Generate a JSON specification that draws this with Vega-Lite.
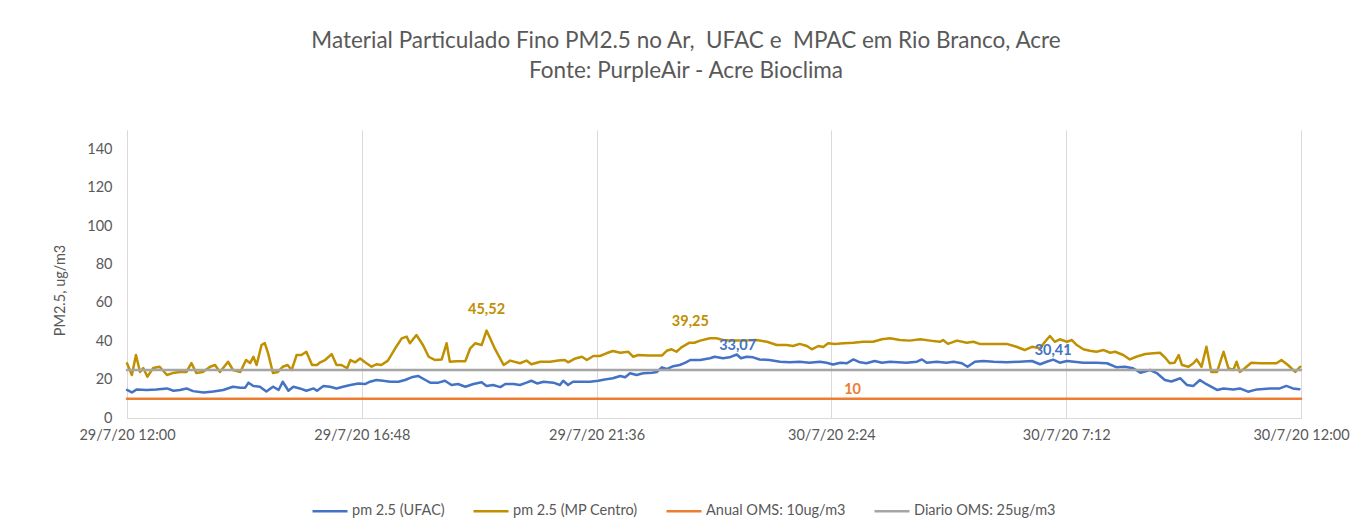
{
  "$schema": "https://vega.github.io/schema/vega-lite/v6.json",
  "width": 1174,
  "height": 288,
  "autosize": {"type": "none"},
  "padding": {"left": 127, "top": 130, "right": 66, "bottom": 113},
  "config": {
    "view": {"stroke": null},
    "font": "Lato",
    "axis": {"labelFont": "Lato", "titleFont": "Lato"},
    "legend": {"labelFont": "Lato"}
  },
  "title": {
    "text": ["Material Particulado Fino PM2.5 no Ar, \u00a0UFAC e \u00a0MPAC em Rio Branco, Acre", "Fonte: PurpleAir - Acre Bioclima"],
    "font": "Lato",
    "fontSize": 22.5,
    "fontWeight": "normal",
    "color": "#595959",
    "lineHeight": 30,
    "anchor": "middle",
    "baseline": "bottom",
    "dx": -28,
    "offset": 25
  },
  "datasets": {
    "series": [
      {"series": "pm 2.5 (UFAC)", "time": "2020-07-29T12:00", "pm": 14.6},
      {"series": "pm 2.5 (UFAC)", "time": "2020-07-29T12:06", "pm": 13.3},
      {"series": "pm 2.5 (UFAC)", "time": "2020-07-29T12:12", "pm": 14.9},
      {"series": "pm 2.5 (UFAC)", "time": "2020-07-29T12:24", "pm": 14.6},
      {"series": "pm 2.5 (UFAC)", "time": "2020-07-29T12:36", "pm": 14.9},
      {"series": "pm 2.5 (UFAC)", "time": "2020-07-29T12:49", "pm": 15.4},
      {"series": "pm 2.5 (UFAC)", "time": "2020-07-29T12:57", "pm": 14.2},
      {"series": "pm 2.5 (UFAC)", "time": "2020-07-29T13:05", "pm": 14.6},
      {"series": "pm 2.5 (UFAC)", "time": "2020-07-29T13:13", "pm": 15.4},
      {"series": "pm 2.5 (UFAC)", "time": "2020-07-29T13:21", "pm": 14.0},
      {"series": "pm 2.5 (UFAC)", "time": "2020-07-29T13:34", "pm": 13.3},
      {"series": "pm 2.5 (UFAC)", "time": "2020-07-29T13:46", "pm": 13.8},
      {"series": "pm 2.5 (UFAC)", "time": "2020-07-29T13:58", "pm": 14.6},
      {"series": "pm 2.5 (UFAC)", "time": "2020-07-29T14:10", "pm": 16.3},
      {"series": "pm 2.5 (UFAC)", "time": "2020-07-29T14:19", "pm": 15.8},
      {"series": "pm 2.5 (UFAC)", "time": "2020-07-29T14:25", "pm": 15.8},
      {"series": "pm 2.5 (UFAC)", "time": "2020-07-29T14:29", "pm": 18.4},
      {"series": "pm 2.5 (UFAC)", "time": "2020-07-29T14:35", "pm": 16.7},
      {"series": "pm 2.5 (UFAC)", "time": "2020-07-29T14:43", "pm": 16.3},
      {"series": "pm 2.5 (UFAC)", "time": "2020-07-29T14:51", "pm": 13.8},
      {"series": "pm 2.5 (UFAC)", "time": "2020-07-29T14:59", "pm": 16.3},
      {"series": "pm 2.5 (UFAC)", "time": "2020-07-29T15:06", "pm": 14.6},
      {"series": "pm 2.5 (UFAC)", "time": "2020-07-29T15:11", "pm": 18.9},
      {"series": "pm 2.5 (UFAC)", "time": "2020-07-29T15:18", "pm": 14.2},
      {"series": "pm 2.5 (UFAC)", "time": "2020-07-29T15:24", "pm": 16.3},
      {"series": "pm 2.5 (UFAC)", "time": "2020-07-29T15:32", "pm": 15.4},
      {"series": "pm 2.5 (UFAC)", "time": "2020-07-29T15:40", "pm": 14.2},
      {"series": "pm 2.5 (UFAC)", "time": "2020-07-29T15:49", "pm": 15.4},
      {"series": "pm 2.5 (UFAC)", "time": "2020-07-29T15:53", "pm": 14.2},
      {"series": "pm 2.5 (UFAC)", "time": "2020-07-29T16:01", "pm": 16.7},
      {"series": "pm 2.5 (UFAC)", "time": "2020-07-29T16:09", "pm": 16.3},
      {"series": "pm 2.5 (UFAC)", "time": "2020-07-29T16:17", "pm": 15.4},
      {"series": "pm 2.5 (UFAC)", "time": "2020-07-29T16:25", "pm": 16.3},
      {"series": "pm 2.5 (UFAC)", "time": "2020-07-29T16:34", "pm": 17.2},
      {"series": "pm 2.5 (UFAC)", "time": "2020-07-29T16:44", "pm": 18.0},
      {"series": "pm 2.5 (UFAC)", "time": "2020-07-29T16:52", "pm": 17.7},
      {"series": "pm 2.5 (UFAC)", "time": "2020-07-29T16:58", "pm": 18.9},
      {"series": "pm 2.5 (UFAC)", "time": "2020-07-29T17:06", "pm": 19.8},
      {"series": "pm 2.5 (UFAC)", "time": "2020-07-29T17:14", "pm": 19.4},
      {"series": "pm 2.5 (UFAC)", "time": "2020-07-29T17:23", "pm": 18.9},
      {"series": "pm 2.5 (UFAC)", "time": "2020-07-29T17:33", "pm": 18.9},
      {"series": "pm 2.5 (UFAC)", "time": "2020-07-29T17:41", "pm": 19.8},
      {"series": "pm 2.5 (UFAC)", "time": "2020-07-29T17:49", "pm": 21.2},
      {"series": "pm 2.5 (UFAC)", "time": "2020-07-29T17:57", "pm": 21.9},
      {"series": "pm 2.5 (UFAC)", "time": "2020-07-29T18:06", "pm": 19.8},
      {"series": "pm 2.5 (UFAC)", "time": "2020-07-29T18:12", "pm": 18.4},
      {"series": "pm 2.5 (UFAC)", "time": "2020-07-29T18:22", "pm": 18.4},
      {"series": "pm 2.5 (UFAC)", "time": "2020-07-29T18:30", "pm": 19.4},
      {"series": "pm 2.5 (UFAC)", "time": "2020-07-29T18:38", "pm": 17.2},
      {"series": "pm 2.5 (UFAC)", "time": "2020-07-29T18:46", "pm": 17.7},
      {"series": "pm 2.5 (UFAC)", "time": "2020-07-29T18:55", "pm": 16.3},
      {"series": "pm 2.5 (UFAC)", "time": "2020-07-29T19:05", "pm": 17.7},
      {"series": "pm 2.5 (UFAC)", "time": "2020-07-29T19:15", "pm": 18.6},
      {"series": "pm 2.5 (UFAC)", "time": "2020-07-29T19:21", "pm": 16.7},
      {"series": "pm 2.5 (UFAC)", "time": "2020-07-29T19:29", "pm": 17.2},
      {"series": "pm 2.5 (UFAC)", "time": "2020-07-29T19:38", "pm": 16.1},
      {"series": "pm 2.5 (UFAC)", "time": "2020-07-29T19:44", "pm": 17.7},
      {"series": "pm 2.5 (UFAC)", "time": "2020-07-29T19:54", "pm": 17.7},
      {"series": "pm 2.5 (UFAC)", "time": "2020-07-29T20:02", "pm": 17.2},
      {"series": "pm 2.5 (UFAC)", "time": "2020-07-29T20:10", "pm": 18.4},
      {"series": "pm 2.5 (UFAC)", "time": "2020-07-29T20:16", "pm": 19.4},
      {"series": "pm 2.5 (UFAC)", "time": "2020-07-29T20:23", "pm": 18.0},
      {"series": "pm 2.5 (UFAC)", "time": "2020-07-29T20:31", "pm": 18.9},
      {"series": "pm 2.5 (UFAC)", "time": "2020-07-29T20:43", "pm": 18.4},
      {"series": "pm 2.5 (UFAC)", "time": "2020-07-29T20:51", "pm": 17.2},
      {"series": "pm 2.5 (UFAC)", "time": "2020-07-29T20:55", "pm": 19.4},
      {"series": "pm 2.5 (UFAC)", "time": "2020-07-29T21:01", "pm": 17.2},
      {"series": "pm 2.5 (UFAC)", "time": "2020-07-29T21:07", "pm": 18.9},
      {"series": "pm 2.5 (UFAC)", "time": "2020-07-29T21:18", "pm": 18.9},
      {"series": "pm 2.5 (UFAC)", "time": "2020-07-29T21:28", "pm": 18.9},
      {"series": "pm 2.5 (UFAC)", "time": "2020-07-29T21:38", "pm": 19.4},
      {"series": "pm 2.5 (UFAC)", "time": "2020-07-29T21:46", "pm": 20.1},
      {"series": "pm 2.5 (UFAC)", "time": "2020-07-29T21:56", "pm": 20.7},
      {"series": "pm 2.5 (UFAC)", "time": "2020-07-29T22:05", "pm": 21.9},
      {"series": "pm 2.5 (UFAC)", "time": "2020-07-29T22:11", "pm": 21.2},
      {"series": "pm 2.5 (UFAC)", "time": "2020-07-29T22:17", "pm": 23.3},
      {"series": "pm 2.5 (UFAC)", "time": "2020-07-29T22:25", "pm": 22.4},
      {"series": "pm 2.5 (UFAC)", "time": "2020-07-29T22:33", "pm": 23.3},
      {"series": "pm 2.5 (UFAC)", "time": "2020-07-29T22:44", "pm": 23.6},
      {"series": "pm 2.5 (UFAC)", "time": "2020-07-29T22:50", "pm": 24.0},
      {"series": "pm 2.5 (UFAC)", "time": "2020-07-29T22:56", "pm": 26.4},
      {"series": "pm 2.5 (UFAC)", "time": "2020-07-29T23:02", "pm": 25.5},
      {"series": "pm 2.5 (UFAC)", "time": "2020-07-29T23:10", "pm": 27.0},
      {"series": "pm 2.5 (UFAC)", "time": "2020-07-29T23:18", "pm": 27.6},
      {"series": "pm 2.5 (UFAC)", "time": "2020-07-29T23:25", "pm": 28.8},
      {"series": "pm 2.5 (UFAC)", "time": "2020-07-29T23:31", "pm": 30.2},
      {"series": "pm 2.5 (UFAC)", "time": "2020-07-29T23:43", "pm": 30.2},
      {"series": "pm 2.5 (UFAC)", "time": "2020-07-29T23:55", "pm": 31.1},
      {"series": "pm 2.5 (UFAC)", "time": "2020-07-30T00:01", "pm": 31.9},
      {"series": "pm 2.5 (UFAC)", "time": "2020-07-30T00:11", "pm": 31.1},
      {"series": "pm 2.5 (UFAC)", "time": "2020-07-30T00:19", "pm": 31.6},
      {"series": "pm 2.5 (UFAC)", "time": "2020-07-30T00:28", "pm": 33.07},
      {"series": "pm 2.5 (UFAC)", "time": "2020-07-30T00:33", "pm": 31.1},
      {"series": "pm 2.5 (UFAC)", "time": "2020-07-30T00:40", "pm": 31.9},
      {"series": "pm 2.5 (UFAC)", "time": "2020-07-30T00:48", "pm": 31.6},
      {"series": "pm 2.5 (UFAC)", "time": "2020-07-30T00:56", "pm": 30.5},
      {"series": "pm 2.5 (UFAC)", "time": "2020-07-30T01:08", "pm": 30.2},
      {"series": "pm 2.5 (UFAC)", "time": "2020-07-30T01:21", "pm": 29.3},
      {"series": "pm 2.5 (UFAC)", "time": "2020-07-30T01:33", "pm": 29.0},
      {"series": "pm 2.5 (UFAC)", "time": "2020-07-30T01:45", "pm": 29.3},
      {"series": "pm 2.5 (UFAC)", "time": "2020-07-30T01:57", "pm": 28.8},
      {"series": "pm 2.5 (UFAC)", "time": "2020-07-30T02:10", "pm": 29.3},
      {"series": "pm 2.5 (UFAC)", "time": "2020-07-30T02:18", "pm": 28.8},
      {"series": "pm 2.5 (UFAC)", "time": "2020-07-30T02:26", "pm": 27.9},
      {"series": "pm 2.5 (UFAC)", "time": "2020-07-30T02:35", "pm": 28.8},
      {"series": "pm 2.5 (UFAC)", "time": "2020-07-30T02:43", "pm": 28.5},
      {"series": "pm 2.5 (UFAC)", "time": "2020-07-30T02:51", "pm": 30.5},
      {"series": "pm 2.5 (UFAC)", "time": "2020-07-30T02:59", "pm": 29.0},
      {"series": "pm 2.5 (UFAC)", "time": "2020-07-30T03:07", "pm": 28.5},
      {"series": "pm 2.5 (UFAC)", "time": "2020-07-30T03:17", "pm": 29.7},
      {"series": "pm 2.5 (UFAC)", "time": "2020-07-30T03:26", "pm": 28.8},
      {"series": "pm 2.5 (UFAC)", "time": "2020-07-30T03:36", "pm": 29.3},
      {"series": "pm 2.5 (UFAC)", "time": "2020-07-30T03:56", "pm": 28.8},
      {"series": "pm 2.5 (UFAC)", "time": "2020-07-30T04:09", "pm": 29.3},
      {"series": "pm 2.5 (UFAC)", "time": "2020-07-30T04:15", "pm": 30.5},
      {"series": "pm 2.5 (UFAC)", "time": "2020-07-30T04:21", "pm": 28.8},
      {"series": "pm 2.5 (UFAC)", "time": "2020-07-30T04:33", "pm": 29.3},
      {"series": "pm 2.5 (UFAC)", "time": "2020-07-30T04:45", "pm": 28.8},
      {"series": "pm 2.5 (UFAC)", "time": "2020-07-30T04:54", "pm": 29.3},
      {"series": "pm 2.5 (UFAC)", "time": "2020-07-30T05:04", "pm": 28.5},
      {"series": "pm 2.5 (UFAC)", "time": "2020-07-30T05:11", "pm": 26.7},
      {"series": "pm 2.5 (UFAC)", "time": "2020-07-30T05:20", "pm": 29.3},
      {"series": "pm 2.5 (UFAC)", "time": "2020-07-30T05:30", "pm": 29.7},
      {"series": "pm 2.5 (UFAC)", "time": "2020-07-30T05:43", "pm": 29.3},
      {"series": "pm 2.5 (UFAC)", "time": "2020-07-30T05:59", "pm": 29.0},
      {"series": "pm 2.5 (UFAC)", "time": "2020-07-30T06:15", "pm": 29.3},
      {"series": "pm 2.5 (UFAC)", "time": "2020-07-30T06:30", "pm": 29.7},
      {"series": "pm 2.5 (UFAC)", "time": "2020-07-30T06:40", "pm": 28.0},
      {"series": "pm 2.5 (UFAC)", "time": "2020-07-30T06:48", "pm": 29.3},
      {"series": "pm 2.5 (UFAC)", "time": "2020-07-30T06:56", "pm": 30.41},
      {"series": "pm 2.5 (UFAC)", "time": "2020-07-30T07:04", "pm": 28.8},
      {"series": "pm 2.5 (UFAC)", "time": "2020-07-30T07:13", "pm": 29.7},
      {"series": "pm 2.5 (UFAC)", "time": "2020-07-30T07:33", "pm": 28.8},
      {"series": "pm 2.5 (UFAC)", "time": "2020-07-30T07:49", "pm": 28.8},
      {"series": "pm 2.5 (UFAC)", "time": "2020-07-30T08:02", "pm": 28.5},
      {"series": "pm 2.5 (UFAC)", "time": "2020-07-30T08:14", "pm": 26.4},
      {"series": "pm 2.5 (UFAC)", "time": "2020-07-30T08:24", "pm": 26.7},
      {"series": "pm 2.5 (UFAC)", "time": "2020-07-30T08:34", "pm": 25.9},
      {"series": "pm 2.5 (UFAC)", "time": "2020-07-30T08:43", "pm": 23.6},
      {"series": "pm 2.5 (UFAC)", "time": "2020-07-30T08:55", "pm": 25.0},
      {"series": "pm 2.5 (UFAC)", "time": "2020-07-30T09:03", "pm": 23.4},
      {"series": "pm 2.5 (UFAC)", "time": "2020-07-30T09:13", "pm": 19.8},
      {"series": "pm 2.5 (UFAC)", "time": "2020-07-30T09:21", "pm": 19.0},
      {"series": "pm 2.5 (UFAC)", "time": "2020-07-30T09:32", "pm": 20.7},
      {"series": "pm 2.5 (UFAC)", "time": "2020-07-30T09:40", "pm": 17.2},
      {"series": "pm 2.5 (UFAC)", "time": "2020-07-30T09:48", "pm": 16.7},
      {"series": "pm 2.5 (UFAC)", "time": "2020-07-30T09:56", "pm": 19.8},
      {"series": "pm 2.5 (UFAC)", "time": "2020-07-30T10:04", "pm": 17.6},
      {"series": "pm 2.5 (UFAC)", "time": "2020-07-30T10:17", "pm": 14.6},
      {"series": "pm 2.5 (UFAC)", "time": "2020-07-30T10:25", "pm": 15.4},
      {"series": "pm 2.5 (UFAC)", "time": "2020-07-30T10:37", "pm": 14.9},
      {"series": "pm 2.5 (UFAC)", "time": "2020-07-30T10:45", "pm": 15.4},
      {"series": "pm 2.5 (UFAC)", "time": "2020-07-30T10:55", "pm": 13.7},
      {"series": "pm 2.5 (UFAC)", "time": "2020-07-30T11:06", "pm": 14.9},
      {"series": "pm 2.5 (UFAC)", "time": "2020-07-30T11:22", "pm": 15.4},
      {"series": "pm 2.5 (UFAC)", "time": "2020-07-30T11:34", "pm": 15.4},
      {"series": "pm 2.5 (UFAC)", "time": "2020-07-30T11:42", "pm": 16.7},
      {"series": "pm 2.5 (UFAC)", "time": "2020-07-30T11:50", "pm": 15.4},
      {"series": "pm 2.5 (UFAC)", "time": "2020-07-30T11:58", "pm": 15.0},

      {"series": "pm 2.5 (MP Centro)", "time": "2020-07-29T12:00", "pm": 28.5},
      {"series": "pm 2.5 (MP Centro)", "time": "2020-07-29T12:06", "pm": 22.4},
      {"series": "pm 2.5 (MP Centro)", "time": "2020-07-29T12:11", "pm": 32.8},
      {"series": "pm 2.5 (MP Centro)", "time": "2020-07-29T12:16", "pm": 24.0},
      {"series": "pm 2.5 (MP Centro)", "time": "2020-07-29T12:20", "pm": 26.0},
      {"series": "pm 2.5 (MP Centro)", "time": "2020-07-29T12:25", "pm": 21.5},
      {"series": "pm 2.5 (MP Centro)", "time": "2020-07-29T12:32", "pm": 26.0},
      {"series": "pm 2.5 (MP Centro)", "time": "2020-07-29T12:40", "pm": 26.7},
      {"series": "pm 2.5 (MP Centro)", "time": "2020-07-29T12:49", "pm": 22.4},
      {"series": "pm 2.5 (MP Centro)", "time": "2020-07-29T12:56", "pm": 23.4},
      {"series": "pm 2.5 (MP Centro)", "time": "2020-07-29T13:05", "pm": 24.0},
      {"series": "pm 2.5 (MP Centro)", "time": "2020-07-29T13:13", "pm": 24.0},
      {"series": "pm 2.5 (MP Centro)", "time": "2020-07-29T13:19", "pm": 28.6},
      {"series": "pm 2.5 (MP Centro)", "time": "2020-07-29T13:25", "pm": 23.4},
      {"series": "pm 2.5 (MP Centro)", "time": "2020-07-29T13:33", "pm": 24.0},
      {"series": "pm 2.5 (MP Centro)", "time": "2020-07-29T13:42", "pm": 26.7},
      {"series": "pm 2.5 (MP Centro)", "time": "2020-07-29T13:48", "pm": 27.6},
      {"series": "pm 2.5 (MP Centro)", "time": "2020-07-29T13:54", "pm": 24.0},
      {"series": "pm 2.5 (MP Centro)", "time": "2020-07-29T14:04", "pm": 29.3},
      {"series": "pm 2.5 (MP Centro)", "time": "2020-07-29T14:10", "pm": 25.0},
      {"series": "pm 2.5 (MP Centro)", "time": "2020-07-29T14:19", "pm": 24.0},
      {"series": "pm 2.5 (MP Centro)", "time": "2020-07-29T14:26", "pm": 30.2},
      {"series": "pm 2.5 (MP Centro)", "time": "2020-07-29T14:31", "pm": 28.6},
      {"series": "pm 2.5 (MP Centro)", "time": "2020-07-29T14:35", "pm": 31.9},
      {"series": "pm 2.5 (MP Centro)", "time": "2020-07-29T14:39", "pm": 27.6},
      {"series": "pm 2.5 (MP Centro)", "time": "2020-07-29T14:45", "pm": 38.0},
      {"series": "pm 2.5 (MP Centro)", "time": "2020-07-29T14:49", "pm": 39.0},
      {"series": "pm 2.5 (MP Centro)", "time": "2020-07-29T14:53", "pm": 33.8},
      {"series": "pm 2.5 (MP Centro)", "time": "2020-07-29T14:59", "pm": 23.4},
      {"series": "pm 2.5 (MP Centro)", "time": "2020-07-29T15:05", "pm": 24.0},
      {"series": "pm 2.5 (MP Centro)", "time": "2020-07-29T15:11", "pm": 26.7},
      {"series": "pm 2.5 (MP Centro)", "time": "2020-07-29T15:17", "pm": 27.6},
      {"series": "pm 2.5 (MP Centro)", "time": "2020-07-29T15:22", "pm": 25.0},
      {"series": "pm 2.5 (MP Centro)", "time": "2020-07-29T15:28", "pm": 32.8},
      {"series": "pm 2.5 (MP Centro)", "time": "2020-07-29T15:34", "pm": 32.8},
      {"series": "pm 2.5 (MP Centro)", "time": "2020-07-29T15:40", "pm": 34.5},
      {"series": "pm 2.5 (MP Centro)", "time": "2020-07-29T15:47", "pm": 27.6},
      {"series": "pm 2.5 (MP Centro)", "time": "2020-07-29T15:53", "pm": 27.6},
      {"series": "pm 2.5 (MP Centro)", "time": "2020-07-29T15:57", "pm": 29.0},
      {"series": "pm 2.5 (MP Centro)", "time": "2020-07-29T16:03", "pm": 30.2},
      {"series": "pm 2.5 (MP Centro)", "time": "2020-07-29T16:11", "pm": 33.3},
      {"series": "pm 2.5 (MP Centro)", "time": "2020-07-29T16:17", "pm": 27.6},
      {"series": "pm 2.5 (MP Centro)", "time": "2020-07-29T16:23", "pm": 27.6},
      {"series": "pm 2.5 (MP Centro)", "time": "2020-07-29T16:30", "pm": 25.9},
      {"series": "pm 2.5 (MP Centro)", "time": "2020-07-29T16:34", "pm": 30.2},
      {"series": "pm 2.5 (MP Centro)", "time": "2020-07-29T16:40", "pm": 29.0},
      {"series": "pm 2.5 (MP Centro)", "time": "2020-07-29T16:46", "pm": 31.0},
      {"series": "pm 2.5 (MP Centro)", "time": "2020-07-29T16:52", "pm": 29.0},
      {"series": "pm 2.5 (MP Centro)", "time": "2020-07-29T17:00", "pm": 26.7},
      {"series": "pm 2.5 (MP Centro)", "time": "2020-07-29T17:06", "pm": 28.0},
      {"series": "pm 2.5 (MP Centro)", "time": "2020-07-29T17:12", "pm": 27.6},
      {"series": "pm 2.5 (MP Centro)", "time": "2020-07-29T17:20", "pm": 29.9},
      {"series": "pm 2.5 (MP Centro)", "time": "2020-07-29T17:29", "pm": 36.3},
      {"series": "pm 2.5 (MP Centro)", "time": "2020-07-29T17:37", "pm": 41.5},
      {"series": "pm 2.5 (MP Centro)", "time": "2020-07-29T17:43", "pm": 42.4},
      {"series": "pm 2.5 (MP Centro)", "time": "2020-07-29T17:47", "pm": 38.9},
      {"series": "pm 2.5 (MP Centro)", "time": "2020-07-29T17:55", "pm": 43.2},
      {"series": "pm 2.5 (MP Centro)", "time": "2020-07-29T18:03", "pm": 38.0},
      {"series": "pm 2.5 (MP Centro)", "time": "2020-07-29T18:10", "pm": 31.9},
      {"series": "pm 2.5 (MP Centro)", "time": "2020-07-29T18:18", "pm": 30.2},
      {"series": "pm 2.5 (MP Centro)", "time": "2020-07-29T18:26", "pm": 30.5},
      {"series": "pm 2.5 (MP Centro)", "time": "2020-07-29T18:32", "pm": 38.9},
      {"series": "pm 2.5 (MP Centro)", "time": "2020-07-29T18:36", "pm": 29.3},
      {"series": "pm 2.5 (MP Centro)", "time": "2020-07-29T18:44", "pm": 29.6},
      {"series": "pm 2.5 (MP Centro)", "time": "2020-07-29T18:55", "pm": 29.6},
      {"series": "pm 2.5 (MP Centro)", "time": "2020-07-29T19:01", "pm": 36.3},
      {"series": "pm 2.5 (MP Centro)", "time": "2020-07-29T19:07", "pm": 38.9},
      {"series": "pm 2.5 (MP Centro)", "time": "2020-07-29T19:15", "pm": 38.0},
      {"series": "pm 2.5 (MP Centro)", "time": "2020-07-29T19:21", "pm": 45.52},
      {"series": "pm 2.5 (MP Centro)", "time": "2020-07-29T19:31", "pm": 36.3},
      {"series": "pm 2.5 (MP Centro)", "time": "2020-07-29T19:42", "pm": 27.6},
      {"series": "pm 2.5 (MP Centro)", "time": "2020-07-29T19:50", "pm": 29.9},
      {"series": "pm 2.5 (MP Centro)", "time": "2020-07-29T20:02", "pm": 28.5},
      {"series": "pm 2.5 (MP Centro)", "time": "2020-07-29T20:10", "pm": 29.9},
      {"series": "pm 2.5 (MP Centro)", "time": "2020-07-29T20:16", "pm": 28.0},
      {"series": "pm 2.5 (MP Centro)", "time": "2020-07-29T20:27", "pm": 29.3},
      {"series": "pm 2.5 (MP Centro)", "time": "2020-07-29T20:39", "pm": 29.3},
      {"series": "pm 2.5 (MP Centro)", "time": "2020-07-29T20:49", "pm": 29.9},
      {"series": "pm 2.5 (MP Centro)", "time": "2020-07-29T20:57", "pm": 30.2},
      {"series": "pm 2.5 (MP Centro)", "time": "2020-07-29T21:01", "pm": 29.0},
      {"series": "pm 2.5 (MP Centro)", "time": "2020-07-29T21:10", "pm": 31.0},
      {"series": "pm 2.5 (MP Centro)", "time": "2020-07-29T21:18", "pm": 31.9},
      {"series": "pm 2.5 (MP Centro)", "time": "2020-07-29T21:24", "pm": 30.2},
      {"series": "pm 2.5 (MP Centro)", "time": "2020-07-29T21:32", "pm": 32.3},
      {"series": "pm 2.5 (MP Centro)", "time": "2020-07-29T21:40", "pm": 32.3},
      {"series": "pm 2.5 (MP Centro)", "time": "2020-07-29T21:48", "pm": 33.7},
      {"series": "pm 2.5 (MP Centro)", "time": "2020-07-29T21:56", "pm": 34.9},
      {"series": "pm 2.5 (MP Centro)", "time": "2020-07-29T22:05", "pm": 34.0},
      {"series": "pm 2.5 (MP Centro)", "time": "2020-07-29T22:15", "pm": 34.5},
      {"series": "pm 2.5 (MP Centro)", "time": "2020-07-29T22:21", "pm": 31.9},
      {"series": "pm 2.5 (MP Centro)", "time": "2020-07-29T22:27", "pm": 32.8},
      {"series": "pm 2.5 (MP Centro)", "time": "2020-07-29T22:39", "pm": 32.5},
      {"series": "pm 2.5 (MP Centro)", "time": "2020-07-29T22:56", "pm": 32.5},
      {"series": "pm 2.5 (MP Centro)", "time": "2020-07-29T23:02", "pm": 35.0},
      {"series": "pm 2.5 (MP Centro)", "time": "2020-07-29T23:08", "pm": 35.8},
      {"series": "pm 2.5 (MP Centro)", "time": "2020-07-29T23:14", "pm": 34.5},
      {"series": "pm 2.5 (MP Centro)", "time": "2020-07-29T23:20", "pm": 36.8},
      {"series": "pm 2.5 (MP Centro)", "time": "2020-07-29T23:30", "pm": 39.25},
      {"series": "pm 2.5 (MP Centro)", "time": "2020-07-29T23:36", "pm": 39.2},
      {"series": "pm 2.5 (MP Centro)", "time": "2020-07-29T23:43", "pm": 40.3},
      {"series": "pm 2.5 (MP Centro)", "time": "2020-07-29T23:55", "pm": 41.5},
      {"series": "pm 2.5 (MP Centro)", "time": "2020-07-30T00:03", "pm": 41.5},
      {"series": "pm 2.5 (MP Centro)", "time": "2020-07-30T00:11", "pm": 40.6},
      {"series": "pm 2.5 (MP Centro)", "time": "2020-07-30T00:24", "pm": 40.3},
      {"series": "pm 2.5 (MP Centro)", "time": "2020-07-30T00:36", "pm": 40.3},
      {"series": "pm 2.5 (MP Centro)", "time": "2020-07-30T00:52", "pm": 40.6},
      {"series": "pm 2.5 (MP Centro)", "time": "2020-07-30T01:05", "pm": 39.7},
      {"series": "pm 2.5 (MP Centro)", "time": "2020-07-30T01:17", "pm": 38.0},
      {"series": "pm 2.5 (MP Centro)", "time": "2020-07-30T01:29", "pm": 38.0},
      {"series": "pm 2.5 (MP Centro)", "time": "2020-07-30T01:37", "pm": 37.5},
      {"series": "pm 2.5 (MP Centro)", "time": "2020-07-30T01:45", "pm": 38.6},
      {"series": "pm 2.5 (MP Centro)", "time": "2020-07-30T01:54", "pm": 37.5},
      {"series": "pm 2.5 (MP Centro)", "time": "2020-07-30T02:00", "pm": 35.8},
      {"series": "pm 2.5 (MP Centro)", "time": "2020-07-30T02:08", "pm": 37.5},
      {"series": "pm 2.5 (MP Centro)", "time": "2020-07-30T02:14", "pm": 37.0},
      {"series": "pm 2.5 (MP Centro)", "time": "2020-07-30T02:20", "pm": 38.9},
      {"series": "pm 2.5 (MP Centro)", "time": "2020-07-30T02:28", "pm": 38.6},
      {"series": "pm 2.5 (MP Centro)", "time": "2020-07-30T02:39", "pm": 38.9},
      {"series": "pm 2.5 (MP Centro)", "time": "2020-07-30T02:51", "pm": 39.2},
      {"series": "pm 2.5 (MP Centro)", "time": "2020-07-30T03:03", "pm": 39.7},
      {"series": "pm 2.5 (MP Centro)", "time": "2020-07-30T03:15", "pm": 39.7},
      {"series": "pm 2.5 (MP Centro)", "time": "2020-07-30T03:26", "pm": 41.0},
      {"series": "pm 2.5 (MP Centro)", "time": "2020-07-30T03:36", "pm": 41.5},
      {"series": "pm 2.5 (MP Centro)", "time": "2020-07-30T03:48", "pm": 40.6},
      {"series": "pm 2.5 (MP Centro)", "time": "2020-07-30T04:00", "pm": 40.3},
      {"series": "pm 2.5 (MP Centro)", "time": "2020-07-30T04:13", "pm": 41.0},
      {"series": "pm 2.5 (MP Centro)", "time": "2020-07-30T04:25", "pm": 40.3},
      {"series": "pm 2.5 (MP Centro)", "time": "2020-07-30T04:37", "pm": 39.7},
      {"series": "pm 2.5 (MP Centro)", "time": "2020-07-30T04:41", "pm": 40.6},
      {"series": "pm 2.5 (MP Centro)", "time": "2020-07-30T04:47", "pm": 38.6},
      {"series": "pm 2.5 (MP Centro)", "time": "2020-07-30T04:58", "pm": 40.3},
      {"series": "pm 2.5 (MP Centro)", "time": "2020-07-30T05:10", "pm": 39.2},
      {"series": "pm 2.5 (MP Centro)", "time": "2020-07-30T05:18", "pm": 39.7},
      {"series": "pm 2.5 (MP Centro)", "time": "2020-07-30T05:26", "pm": 38.6},
      {"series": "pm 2.5 (MP Centro)", "time": "2020-07-30T05:43", "pm": 38.6},
      {"series": "pm 2.5 (MP Centro)", "time": "2020-07-30T05:59", "pm": 38.6},
      {"series": "pm 2.5 (MP Centro)", "time": "2020-07-30T06:11", "pm": 37.1},
      {"series": "pm 2.5 (MP Centro)", "time": "2020-07-30T06:21", "pm": 35.4},
      {"series": "pm 2.5 (MP Centro)", "time": "2020-07-30T06:30", "pm": 37.1},
      {"series": "pm 2.5 (MP Centro)", "time": "2020-07-30T06:40", "pm": 36.3},
      {"series": "pm 2.5 (MP Centro)", "time": "2020-07-30T06:46", "pm": 39.7},
      {"series": "pm 2.5 (MP Centro)", "time": "2020-07-30T06:52", "pm": 42.7},
      {"series": "pm 2.5 (MP Centro)", "time": "2020-07-30T06:58", "pm": 39.7},
      {"series": "pm 2.5 (MP Centro)", "time": "2020-07-30T07:04", "pm": 41.0},
      {"series": "pm 2.5 (MP Centro)", "time": "2020-07-30T07:13", "pm": 39.7},
      {"series": "pm 2.5 (MP Centro)", "time": "2020-07-30T07:19", "pm": 40.6},
      {"series": "pm 2.5 (MP Centro)", "time": "2020-07-30T07:25", "pm": 38.0},
      {"series": "pm 2.5 (MP Centro)", "time": "2020-07-30T07:33", "pm": 35.8},
      {"series": "pm 2.5 (MP Centro)", "time": "2020-07-30T07:41", "pm": 35.0},
      {"series": "pm 2.5 (MP Centro)", "time": "2020-07-30T07:49", "pm": 34.5},
      {"series": "pm 2.5 (MP Centro)", "time": "2020-07-30T07:58", "pm": 35.4},
      {"series": "pm 2.5 (MP Centro)", "time": "2020-07-30T08:06", "pm": 34.0},
      {"series": "pm 2.5 (MP Centro)", "time": "2020-07-30T08:12", "pm": 34.5},
      {"series": "pm 2.5 (MP Centro)", "time": "2020-07-30T08:22", "pm": 32.8},
      {"series": "pm 2.5 (MP Centro)", "time": "2020-07-30T08:30", "pm": 30.5},
      {"series": "pm 2.5 (MP Centro)", "time": "2020-07-30T08:38", "pm": 31.9},
      {"series": "pm 2.5 (MP Centro)", "time": "2020-07-30T08:49", "pm": 33.3},
      {"series": "pm 2.5 (MP Centro)", "time": "2020-07-30T08:59", "pm": 33.7},
      {"series": "pm 2.5 (MP Centro)", "time": "2020-07-30T09:07", "pm": 34.0},
      {"series": "pm 2.5 (MP Centro)", "time": "2020-07-30T09:13", "pm": 31.6},
      {"series": "pm 2.5 (MP Centro)", "time": "2020-07-30T09:19", "pm": 28.5},
      {"series": "pm 2.5 (MP Centro)", "time": "2020-07-30T09:25", "pm": 28.8},
      {"series": "pm 2.5 (MP Centro)", "time": "2020-07-30T09:30", "pm": 32.8},
      {"series": "pm 2.5 (MP Centro)", "time": "2020-07-30T09:34", "pm": 27.6},
      {"series": "pm 2.5 (MP Centro)", "time": "2020-07-30T09:42", "pm": 26.7},
      {"series": "pm 2.5 (MP Centro)", "time": "2020-07-30T09:48", "pm": 28.5},
      {"series": "pm 2.5 (MP Centro)", "time": "2020-07-30T09:52", "pm": 30.5},
      {"series": "pm 2.5 (MP Centro)", "time": "2020-07-30T09:58", "pm": 26.7},
      {"series": "pm 2.5 (MP Centro)", "time": "2020-07-30T10:04", "pm": 37.1},
      {"series": "pm 2.5 (MP Centro)", "time": "2020-07-30T10:10", "pm": 24.0},
      {"series": "pm 2.5 (MP Centro)", "time": "2020-07-30T10:17", "pm": 24.0},
      {"series": "pm 2.5 (MP Centro)", "time": "2020-07-30T10:25", "pm": 34.5},
      {"series": "pm 2.5 (MP Centro)", "time": "2020-07-30T10:31", "pm": 25.9},
      {"series": "pm 2.5 (MP Centro)", "time": "2020-07-30T10:37", "pm": 25.0},
      {"series": "pm 2.5 (MP Centro)", "time": "2020-07-30T10:41", "pm": 29.3},
      {"series": "pm 2.5 (MP Centro)", "time": "2020-07-30T10:45", "pm": 24.0},
      {"series": "pm 2.5 (MP Centro)", "time": "2020-07-30T10:51", "pm": 25.9},
      {"series": "pm 2.5 (MP Centro)", "time": "2020-07-30T10:59", "pm": 28.8},
      {"series": "pm 2.5 (MP Centro)", "time": "2020-07-30T11:10", "pm": 28.5},
      {"series": "pm 2.5 (MP Centro)", "time": "2020-07-30T11:22", "pm": 28.5},
      {"series": "pm 2.5 (MP Centro)", "time": "2020-07-30T11:30", "pm": 28.5},
      {"series": "pm 2.5 (MP Centro)", "time": "2020-07-30T11:36", "pm": 30.2},
      {"series": "pm 2.5 (MP Centro)", "time": "2020-07-30T11:44", "pm": 27.6},
      {"series": "pm 2.5 (MP Centro)", "time": "2020-07-30T11:53", "pm": 24.0},
      {"series": "pm 2.5 (MP Centro)", "time": "2020-07-30T11:59", "pm": 26.7},

      {"series": "Anual OMS: 10ug/m3", "time": "2020-07-29T12:00", "pm": 10},
      {"series": "Anual OMS: 10ug/m3", "time": "2020-07-30T12:00", "pm": 10},
      {"series": "Diario OMS: 25ug/m3", "time": "2020-07-29T12:00", "pm": 25},
      {"series": "Diario OMS: 25ug/m3", "time": "2020-07-30T12:00", "pm": 25}
    ],
    "goldLabels": [
      {"time": "2020-07-29T19:21", "pm": 45.52, "label": "45,52"},
      {"time": "2020-07-29T23:31", "pm": 39.25, "label": "39,25"}
    ],
    "blueLabels": [
      {"time": "2020-07-30T00:29", "pm": 33.07, "label": "33,07"},
      {"time": "2020-07-30T06:56", "pm": 30.41, "label": "30,41"}
    ],
    "orangeLabels": [
      {"time": "2020-07-30T02:50", "pm": 10, "label": "10"}
    ]
  },
  "encoding": {
    "x": {
      "field": "time",
      "type": "temporal",
      "scale": {"domain": [{"year": 2020, "month": 7, "date": 29, "hours": 12}, {"year": 2020, "month": 7, "date": 30, "hours": 12}], "nice": false},
      "axis": {
        "values": [
          {"year": 2020, "month": 7, "date": 29, "hours": 12, "minutes": 0},
          {"year": 2020, "month": 7, "date": 29, "hours": 16, "minutes": 48},
          {"year": 2020, "month": 7, "date": 29, "hours": 21, "minutes": 36},
          {"year": 2020, "month": 7, "date": 30, "hours": 2, "minutes": 24},
          {"year": 2020, "month": 7, "date": 30, "hours": 7, "minutes": 12},
          {"year": 2020, "month": 7, "date": 30, "hours": 12, "minutes": 0}
        ],
        "labelExpr": "timeFormat(datum.value, '%-d/%-m/%y %-H:%M')",
        "title": null,
        "grid": true,
        "gridColor": "#D9D9D9",
        "gridWidth": 1,
        "domainColor": "#D9D9D9",
        "ticks": false,
        "labelPadding": 10,
        "labelFontSize": 14.5,
        "labelColor": "#595959",
        "labelFlush": false,
        "labelOverlap": false,
        "labelBound": false
      }
    },
    "y": {
      "field": "pm",
      "type": "quantitative",
      "scale": {"domain": [0, 150], "nice": false},
      "axis": {
        "values": [0, 20, 40, 60, 80, 100, 120, 140],
        "title": "PM2.5, ug/m3",
        "titleFontSize": 14.5,
        "titleFontWeight": "normal",
        "titleColor": "#595959",
        "titleX": -67,
        "titleY": 160,
        "titleAlign": "center",
        "titleBaseline": "middle",
        "grid": false,
        "domainColor": "#D9D9D9",
        "ticks": false,
        "labelPadding": 15,
        "labelFontSize": 14.5,
        "labelColor": "#595959"
      }
    }
  },
  "layer": [
    {
      "data": {"name": "series"},
      "mark": {"type": "line", "strokeWidth": 2.5, "strokeJoin": "round", "strokeCap": "round"},
      "encoding": {
        "color": {
          "field": "series",
          "type": "nominal",
          "scale": {
            "domain": ["pm 2.5 (UFAC)", "pm 2.5 (MP Centro)", "Anual OMS: 10ug/m3", "Diario OMS: 25ug/m3"],
            "range": ["#4472C4", "#BF9000", "#ED7D31", "#A5A5A5"]
          },
          "legend": {
            "orient": "none",
            "legendX": 184,
            "legendY": 362,
            "direction": "horizontal",
            "title": null,
            "symbolType": "stroke",
            "symbolStrokeWidth": 2.5,
            "symbolSize": 1225,
            "labelFontSize": 14.5,
            "labelColor": "#595959",
            "labelOffset": 3,
            "columnPadding": 23
          }
        }
      }
    },
    {
      "data": {"name": "goldLabels"},
      "mark": {"type": "text", "dy": -21, "fontSize": 14.5, "fontWeight": "bold", "color": "#BF9000", "baseline": "middle"},
      "encoding": {"text": {"field": "label"}}
    },
    {
      "data": {"name": "blueLabels"},
      "mark": {"type": "text", "dy": -9, "fontSize": 14.5, "fontWeight": "bold", "color": "#4472C4", "baseline": "middle"},
      "encoding": {"text": {"field": "label"}}
    },
    {
      "data": {"name": "orangeLabels"},
      "mark": {"type": "text", "dy": -9, "fontSize": 14.5, "fontWeight": "bold", "color": "#ED7D31", "baseline": "middle"},
      "encoding": {"text": {"field": "label"}}
    }
  ]
}
